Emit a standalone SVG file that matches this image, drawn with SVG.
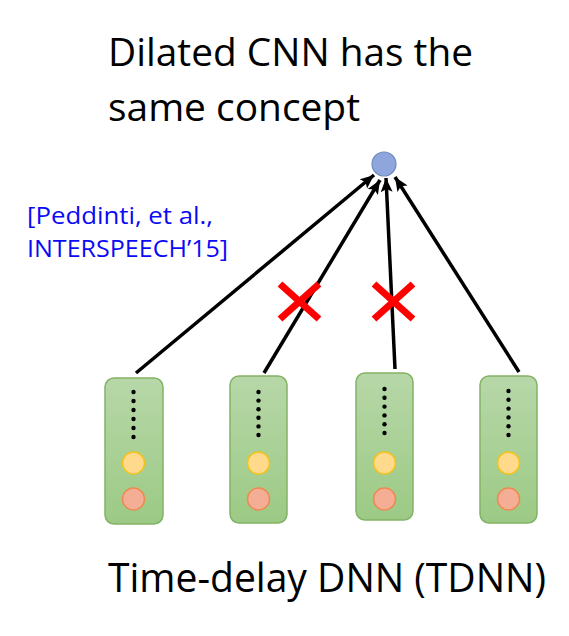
<svg xmlns="http://www.w3.org/2000/svg" width="569" height="636" viewBox="0 0 569 636">
<style>
.t{font-family:"Open Sans","Noto Sans","Liberation Sans",sans-serif;fill:#000}
.ref{font-family:"Open Sans","Noto Sans","Liberation Sans",sans-serif;fill:#0A0AF5;font-size:23px}
.box{fill:url(#g);stroke:#82B366;stroke-width:1.5}
.dot{fill:#000}
.y{fill:#FFD98C;stroke:#F5C21B;stroke-width:1.5}
.r{fill:#F5AE96;stroke:#EE8A50;stroke-width:1.5}
.c{stroke:#000;stroke-width:3.5;fill:none}
.x{stroke:#FF0000;stroke-width:7;stroke-linecap:butt}
</style>
<defs>
<linearGradient id="g" x1="0" y1="0" x2="0" y2="1">
<stop offset="0" stop-color="#B7D7A8"/>
<stop offset="1" stop-color="#9CCA85"/>
</linearGradient>
<marker id="a" markerUnits="userSpaceOnUse" markerWidth="16" markerHeight="14" refX="14" refY="6" orient="auto">
<path d="M0,0 L14,6 L0,12 L3,6 Z" fill="#000"/>
</marker>
</defs>
<text class="t" x="108" y="66" font-size="38" textLength="365" lengthAdjust="spacingAndGlyphs">Dilated CNN has the</text>
<text class="t" x="108" y="121" font-size="38" textLength="252" lengthAdjust="spacingAndGlyphs">same concept</text>
<text class="ref" x="27" y="224" textLength="186" lengthAdjust="spacingAndGlyphs">[Peddinti, et al.,</text>
<text class="ref" x="27" y="257" textLength="201" lengthAdjust="spacingAndGlyphs">INTERSPEECH’15]</text>
<g id="connectors">
<line class="c" x1="136" y1="373" x2="374" y2="175" marker-end="url(#a)"/>
<line class="c" x1="264" y1="373" x2="380" y2="180" marker-end="url(#a)"/>
<line class="c" x1="395" y1="369" x2="386" y2="178" marker-end="url(#a)"/>
<line class="c" x1="519" y1="372" x2="395" y2="177" marker-end="url(#a)"/>
</g>
<g id="out"><circle cx="384" cy="164" r="12" fill="#8FA6DC" stroke="#6C8EBF" stroke-width="1.2"/></g>
<g id="cross1"><line class="x" x1="280" y1="284" x2="319" y2="319"/><line class="x" x1="319" y1="284" x2="280" y2="319"/></g>
<g id="cross2"><line class="x" x1="374" y1="284" x2="413" y2="319"/><line class="x" x1="413" y1="284" x2="374" y2="319"/></g>
<g id="n1">
<rect class="box" x="105" y="378" width="58" height="146" rx="9"/>
<circle class="dot" cx="133.5" cy="392" r="2.2"/><circle class="dot" cx="133.5" cy="401" r="2.2"/><circle class="dot" cx="133.5" cy="410" r="2.2"/><circle class="dot" cx="133.5" cy="419" r="2.2"/><circle class="dot" cx="133.5" cy="428" r="2.2"/><circle class="dot" cx="133.5" cy="437" r="2.2"/>
<circle class="y" cx="133.5" cy="463" r="11"/><circle class="r" cx="133.5" cy="499" r="11"/>
</g>
<g id="n2">
<rect class="box" x="230" y="376" width="57" height="147" rx="9"/>
<circle class="dot" cx="258.5" cy="392" r="2.2"/><circle class="dot" cx="258.5" cy="400.6" r="2.2"/><circle class="dot" cx="258.5" cy="409.2" r="2.2"/><circle class="dot" cx="258.5" cy="417.8" r="2.2"/><circle class="dot" cx="258.5" cy="426.4" r="2.2"/><circle class="dot" cx="258.5" cy="435" r="2.2"/>
<circle class="y" cx="258.5" cy="463" r="11"/><circle class="r" cx="258.5" cy="499" r="11"/>
</g>
<g id="n3">
<rect class="box" x="356" y="373" width="57" height="147" rx="9"/>
<circle class="dot" cx="384.5" cy="389" r="2.2"/><circle class="dot" cx="384.5" cy="397.8" r="2.2"/><circle class="dot" cx="384.5" cy="406.6" r="2.2"/><circle class="dot" cx="384.5" cy="415.4" r="2.2"/><circle class="dot" cx="384.5" cy="424.2" r="2.2"/><circle class="dot" cx="384.5" cy="433" r="2.2"/>
<circle class="y" cx="384.5" cy="463" r="11"/><circle class="r" cx="384.5" cy="499" r="11"/>
</g>
<g id="n4">
<rect class="box" x="480" y="376" width="57" height="147" rx="9"/>
<circle class="dot" cx="508.5" cy="391" r="2.2"/><circle class="dot" cx="508.5" cy="399.8" r="2.2"/><circle class="dot" cx="508.5" cy="408.6" r="2.2"/><circle class="dot" cx="508.5" cy="417.4" r="2.2"/><circle class="dot" cx="508.5" cy="426.2" r="2.2"/><circle class="dot" cx="508.5" cy="435" r="2.2"/>
<circle class="y" cx="508.5" cy="463" r="11"/><circle class="r" cx="508.5" cy="499" r="11"/>
</g>
<text class="t" x="108" y="592" font-size="40" textLength="438" lengthAdjust="spacingAndGlyphs">Time-delay DNN (TDNN)</text>
</svg>
